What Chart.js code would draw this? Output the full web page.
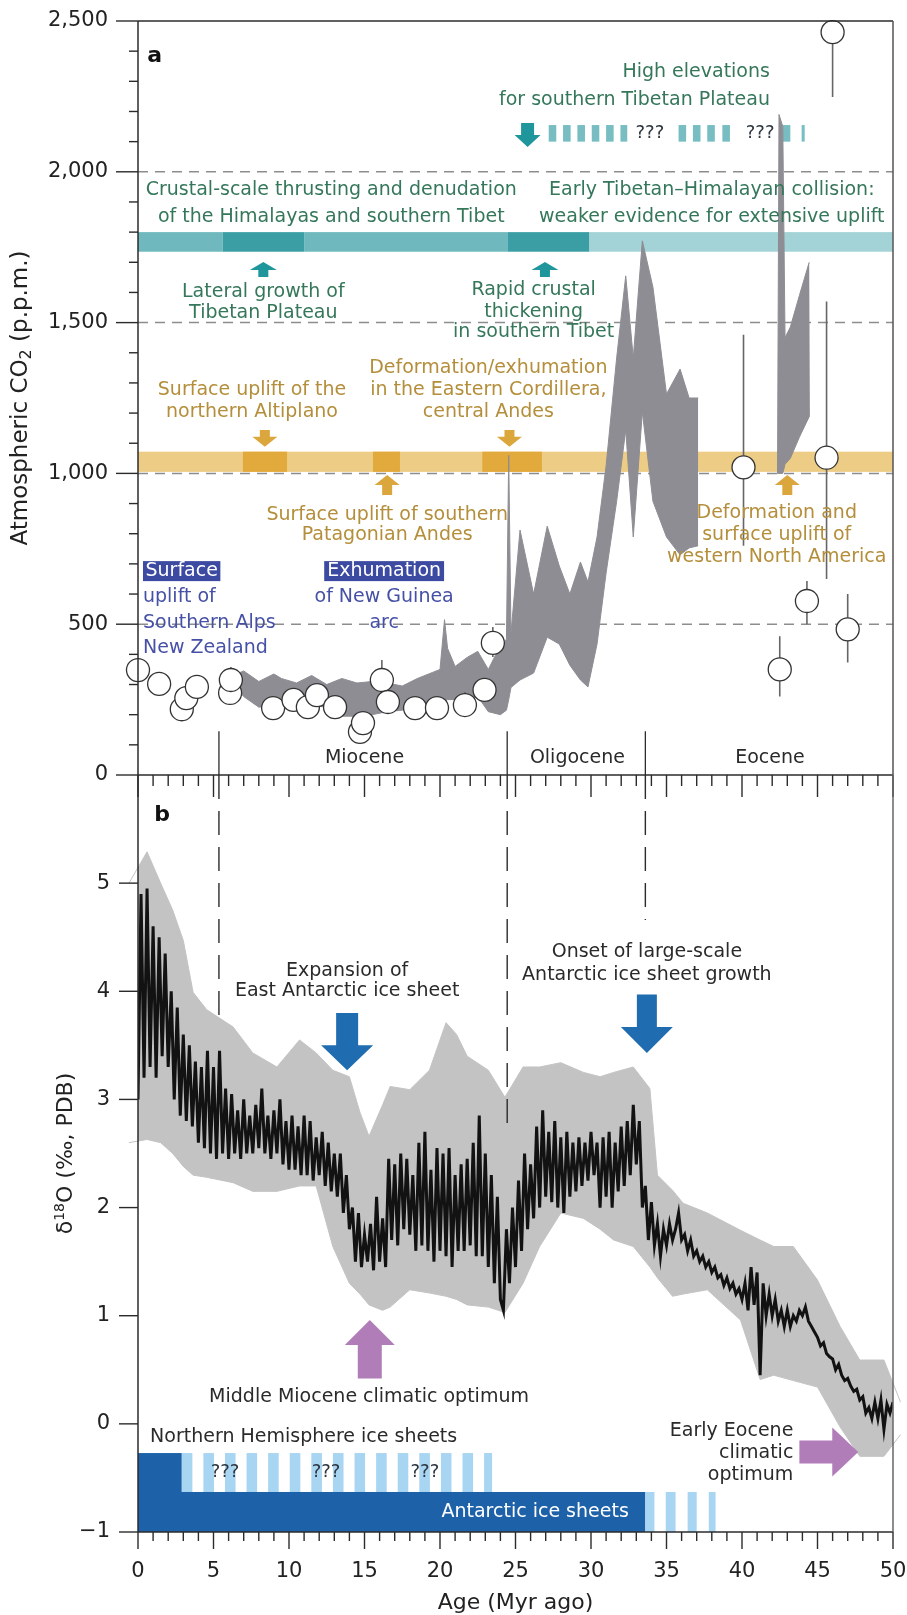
<!DOCTYPE html>
<html lang="en">
<head>
<meta charset="UTF-8">
<title>Atmospheric CO2 and benthic oxygen isotopes, 0-50 Myr</title>
<style>
  body { margin: 0; background: #fff; }
  #wrap { position: relative; width: 907px; height: 1615px; }
  #wrap canvas { position: absolute; left: 0; }
  #chartA { top: 0; }
  #chartB { top: 760px; }
</style>
</head>
<body>
<div id="wrap">
  <canvas id="chartA" width="907" height="800"></canvas>
  <canvas id="chartB" width="907" height="855"></canvas>
</div>
<script src="https://cdn.jsdelivr.net/npm/chart.js"></script>
<script>
// ---------- panel a : atmospheric CO2 ----------
const co2Age     = [0.0, 1.4, 2.9, 3.2, 3.9, 6.1, 6.15, 8.95, 10.3, 11.25, 11.85, 13.05, 14.7, 14.9, 16.15, 16.55, 18.35, 19.8, 21.65, 22.95, 23.5, 40.1, 42.5, 44.3, 45.6, 46.0, 47.0];
const co2Value   = [348, 302, 218, 255, 292, 272, 315, 222, 249, 225, 265, 225, 143, 172, 315, 242, 222, 222, 232, 282, 438, 1020, 350, 577, 1052, 2463, 483];
const co2ErrLow  = [null, null, null, null, null, null, 315, null, null, null, null, null, null, null, 315, null, null, null, 232, null, 391, 760, 260, 500, 650, 2248, 373];
const co2ErrHigh = [null, null, null, null, null, null, 358, null, null, null, null, null, null, null, 381, null, null, null, 275, null, 491, 1460, 460, 643, 1570, 2500, 600];

// alkenone band (Miocene-Oligocene) and Eocene band
const bandAge  = [6.3, 7.0, 8.0, 9.0, 9.5, 10.5, 11.5, 12.5, 13.5, 14.5, 15.5, 16.5, 17.5, 18.5, 19.5, 20.0, 20.3, 20.5, 21.0, 21.8, 22.5, 23.2, 24.0, 24.4, 24.55, 24.7, 25.3, 26.2, 27.1, 27.9, 28.6, 29.3, 29.8, 30.4, 31.0, 31.7, 32.3, 32.8, 33.4, 34.1, 35.0, 35.9, 36.5, 37.1];
const bandHigh = [330, 345, 310, 335, 320, 305, 330, 300, 320, 305, 310, 305, 295, 320, 340, 350, 515, 420, 360, 390, 410, 350, 430, 450, 1060, 470, 812, 600, 825, 693, 600, 706, 640, 789, 1025, 1383, 1655, 1383, 1771, 1618, 1263, 1346, 1250, 1250];
const bandLow  = [300, 260, 225, 230, 235, 235, 230, 225, 195, 195, 200, 210, 215, 220, 230, 240, 240, 250, 250, 250, 260, 210, 200, 215, 250, 290, 315, 338, 457, 434, 364, 315, 292, 434, 670, 908, 1144, 789, 1204, 908, 789, 730, 753, 760];
const eoBandAge  = [42.35, 42.45, 42.7, 42.85, 43.2, 43.8, 44.45, 44.5];
const eoBandHigh = [1000, 2190, 2150, 1450, 1485, 1590, 1700, 1700];
const eoBandLow  = [1000, 1000, 1000, 1030, 1050, 1120, 1190, 1190];

// uplift bars
const tibetStart    = [0, 5.6, 11.0, 24.5, 29.9];
const tibetEnd      = [5.6, 11.0, 24.5, 29.9, 50];
const tibetEvidence = ['moderate', 'strong', 'moderate', 'strong', 'weak'];
const hiElevStart   = [27.2, 28.15, 29.1, 30.05, 31.0, 31.95, 35.8, 36.75, 37.7, 38.7, 42.7, 43.95];
const hiElevEnd     = [27.7, 28.65, 29.6, 30.55, 31.5, 32.4, 36.3, 37.25, 38.2, 39.2, 43.2, 44.15];
const andesPulseStart = [6.95, 15.56, 22.8];
const andesPulseEnd   = [9.87, 17.35, 26.75];

const co2RefLines = [500, 1000, 1500, 2000];
const epochAge     = [5.36, 24.45, 33.6];
const epochDashEnd = [3.77, 2.7, 4.66];

// ---------- panel b : benthic d18O ----------
const d18oAge = [
  0, 0.2, 0.4, 0.6, 0.8, 1, 1.2, 1.4, 1.6, 1.8,
  2, 2.2, 2.4, 2.6, 2.8, 3, 3.2, 3.4, 3.6, 3.8,
  4, 4.2, 4.4, 4.6, 4.8, 5, 5.2, 5.4, 5.6, 5.8,
  6, 6.2, 6.4, 6.6, 6.8, 7, 7.2, 7.4, 7.6, 7.8,
  8, 8.2, 8.4, 8.6, 8.8, 9, 9.2, 9.4, 9.6, 9.8,
  10, 10.2, 10.4, 10.6, 10.8, 11, 11.2, 11.4, 11.6, 11.8,
  12, 12.2, 12.4, 12.6, 12.8, 13, 13.2, 13.4, 13.6, 13.8,
  14, 14.2, 14.4, 14.6, 14.8, 15, 15.2, 15.4, 15.6, 15.8,
  16, 16.2, 16.4, 16.6, 16.8, 17, 17.2, 17.4, 17.6, 17.8,
  18, 18.2, 18.4, 18.6, 18.8, 19, 19.2, 19.4, 19.6, 19.8,
  20, 20.2, 20.4, 20.6, 20.8, 21, 21.2, 21.4, 21.6, 21.8,
  22, 22.2, 22.4, 22.6, 22.8, 23, 23.2, 23.4, 23.6, 23.8,
  24, 24.2, 24.4, 24.6, 24.8, 25, 25.2, 25.4, 25.6, 25.8,
  26, 26.2, 26.4, 26.6, 26.8, 27, 27.2, 27.4, 27.6, 27.8,
  28, 28.2, 28.4, 28.6, 28.8, 29, 29.2, 29.4, 29.6, 29.8,
  30, 30.2, 30.4, 30.6, 30.8, 31, 31.2, 31.4, 31.6, 31.8,
  32, 32.2, 32.4, 32.6, 32.8, 33, 33.2, 33.4, 33.6, 33.8,
  34, 34.2, 34.4, 34.6, 34.8, 35, 35.2, 35.4, 35.6, 35.8,
  36, 36.2, 36.4, 36.6, 36.8, 37, 37.2, 37.4, 37.6, 37.8,
  38, 38.2, 38.4, 38.6, 38.8, 39, 39.2, 39.4, 39.6, 39.8,
  40, 40.2, 40.4, 40.6, 40.8, 41, 41.2, 41.4, 41.6, 41.8,
  42, 42.2, 42.4, 42.6, 42.8, 43, 43.2, 43.4, 43.6, 43.8,
  44, 44.2, 44.4, 44.6, 44.8, 45, 45.2, 45.4, 45.6, 45.8,
  46, 46.2, 46.4, 46.6, 46.8, 47, 47.2, 47.4, 47.6, 47.8,
  48, 48.2, 48.4, 48.6, 48.8, 49, 49.2, 49.4, 49.6, 49.8,
  50
];
const d18oValue = [
  3.0, 4.9, 3.2, 4.95, 3.3, 4.6, 3.2, 4.5, 3.4, 4.35,
  3.3, 4.0, 3.0, 3.85, 2.85, 3.6, 2.8, 3.5, 2.75, 3.35,
  2.6, 3.3, 2.55, 3.45, 2.5, 3.3, 2.45, 3.45, 2.5, 3.1,
  2.45, 3.05, 2.5, 2.9, 2.45, 3.0, 2.5, 2.85, 2.5, 2.95,
  2.55, 3.1, 2.5, 2.85, 2.45, 2.9, 2.5, 3.0, 2.4, 2.8,
  2.35, 2.85, 2.35, 2.75, 2.3, 2.85, 2.3, 2.8, 2.25, 2.65,
  2.3, 2.7, 2.2, 2.6, 2.15, 2.5, 2.1, 2.5, 1.95, 2.3,
  1.8, 2.0, 1.5, 1.95, 1.45, 1.75, 1.5, 1.85, 1.42, 2.1,
  1.5, 1.9, 1.45, 2.45, 1.7, 2.4, 1.65, 2.5, 1.8, 2.45,
  1.75, 2.3, 1.6, 2.6, 1.65, 2.7, 1.6, 2.35, 1.5, 2.55,
  1.6, 2.5, 1.55, 2.55, 1.45, 2.3, 1.6, 2.4, 1.6, 2.45,
  1.65, 2.6, 1.55, 2.85, 1.55, 2.5, 1.45, 2.3, 1.3, 2.1,
  1.15, 1.05, 1.8, 1.3, 2.0, 1.45, 2.25, 1.6, 2.5, 1.8,
  2.4, 1.9, 2.75, 2.0, 2.9, 2.1, 2.7, 2.05, 2.8, 2.0,
  2.65, 1.95, 2.7, 2.1, 2.6, 2.15, 2.65, 2.2, 2.6, 2.25,
  2.7, 2.3, 2.6, 2.0, 2.65, 2.1, 2.7, 2.0, 2.6, 2.15,
  2.75, 2.2, 2.8, 2.3, 2.95, 2.4, 2.8, 2.0, 2.2, 1.7,
  2.05, 1.65, 1.85, 1.55, 1.8, 1.65, 1.85, 1.7, 1.8, 1.95,
  1.7, 1.75, 1.6, 1.7, 1.55, 1.6, 1.5, 1.55, 1.45, 1.5,
  1.4, 1.45, 1.35, 1.38, 1.28, 1.35, 1.25, 1.3, 1.2, 1.25,
  1.15, 1.3, 1.05, 1.45, 1.1, 1.4, 0.45, 1.3, 1.0, 1.2,
  1.0, 1.15, 0.95, 1.05, 0.9, 1.05, 0.9, 1.0, 0.95, 1.05,
  1.0, 1.08, 0.95, 0.9, 0.85, 0.8, 0.72, 0.75, 0.65, 0.62,
  0.6, 0.5, 0.55, 0.45, 0.4, 0.42, 0.35, 0.3, 0.32, 0.22,
  0.25, 0.1, 0.15, 0.05, 0.2, 0.05, 0.22, -0.05, 0.18, 0.1,
  0.2
];
const envAge  = [-0.6, 0.6, 1.5, 2.3, 3.0, 3.65, 4.55, 6.3, 7.6, 9.2, 10.7, 11.8, 12.9, 14.0, 14.7, 15.3, 16.2, 16.7, 18.0, 19.3, 20.4, 21.1, 21.8, 23.2, 24.3, 25.5, 26.6, 28.0, 29.5, 30.6, 31.5, 32.8, 33.9, 34.4, 35.4, 36.1, 37.7, 39.9, 41.2, 42.1, 43.4, 45.0, 46.5, 47.8, 49.4, 50.5];
const envHigh = [5.0, 5.29, 5.0, 4.75, 4.47, 3.99, 3.83, 3.67, 3.43, 3.3, 3.55, 3.43, 3.27, 3.21, 2.88, 2.66, 2.95, 3.12, 3.09, 3.27, 3.71, 3.6, 3.4, 3.27, 3.02, 3.3, 3.3, 3.34, 3.25, 3.21, 3.25, 3.3, 3.1, 2.3, 2.16, 2.04, 1.95, 1.79, 1.7, 1.64, 1.64, 1.33, 0.9, 0.59, 0.59, 0.2];
const envLow  = [2.6, 2.63, 2.6, 2.5, 2.38, 2.3, 2.28, 2.23, 2.15, 2.15, 2.2, 2.2, 1.64, 1.3, 1.2, 1.1, 1.05, 1.08, 1.24, 1.21, 1.18, 1.15, 1.1, 1.08, 1.03, 1.3, 1.64, 1.95, 1.9, 1.8, 1.7, 1.64, 1.45, 1.35, 1.18, 1.2, 1.24, 0.96, 0.41, 0.45, 0.4, 0.34, -0.03, -0.3, -0.3, -0.1];

// ice sheet bars
const nhStripeStart = [2.9, 4.33, 5.76, 7.19, 8.62, 10.05, 11.48, 12.91, 14.34, 15.77, 17.2, 18.63, 20.06, 21.49, 22.92];
const nhStripeEnd   = [3.6, 5.03, 6.46, 7.89, 9.32, 10.75, 12.18, 13.61, 15.04, 16.47, 17.9, 19.33, 20.76, 22.19, 23.45];
const antStripeStart = [33.6, 34.95, 36.4, 37.8];
const antStripeEnd   = [34.2, 35.6, 37.0, 38.25];

// ---------- styles ----------
const FAM = '"DejaVu Sans", Verdana, sans-serif';
const ANNO = '19px ' + FAM;
const AXIS = '#2b2b2b';
const GREEN = '#35775a';
const GOLD = '#b48e3a';
const BLUE_TXT = '#4550a6';
const DARK_TXT = '#2a2a2a';
const TIBET_SHADE = { weak: '#a3d3d6', moderate: '#6fb8bd', strong: '#3b9ea4' };

Chart.defaults.font.family = FAM;
Chart.defaults.color = '#222';

function seg(ctx, x0, y0, x1, y1) { ctx.beginPath(); ctx.moveTo(x0, y0); ctx.lineTo(x1, y1); ctx.stroke(); }
function box(ctx, x0, x1, y0, y1, color) { ctx.fillStyle = color; ctx.fillRect(x0, Math.min(y0, y1), x1 - x0, Math.abs(y1 - y0)); }
function write(ctx, s, x, y, color, align, font) {
  ctx.font = font || ANNO; ctx.fillStyle = color; ctx.textAlign = align || 'center'; ctx.textBaseline = 'middle';
  ctx.fillText(s, x, y);
}
// vertical arrow, tip at yTip
function vArrow(ctx, x, yTail, yTip, shaftW, headW, headLen, color) {
  const dir = yTip > yTail ? 1 : -1, base = yTip - dir * headLen;
  ctx.fillStyle = color; ctx.beginPath();
  ctx.moveTo(x - shaftW / 2, yTail); ctx.lineTo(x + shaftW / 2, yTail); ctx.lineTo(x + shaftW / 2, base);
  ctx.lineTo(x + headW / 2, base); ctx.lineTo(x, yTip); ctx.lineTo(x - headW / 2, base);
  ctx.lineTo(x - shaftW / 2, base); ctx.closePath(); ctx.fill();
}
function hArrow(ctx, xTail, xTip, y, shaftH, headH, headLen, color) {
  const base = xTip - headLen;
  ctx.fillStyle = color; ctx.beginPath();
  ctx.moveTo(xTail, y - shaftH / 2); ctx.lineTo(base, y - shaftH / 2); ctx.lineTo(base, y - headH / 2);
  ctx.lineTo(xTip, y); ctx.lineTo(base, y + headH / 2); ctx.lineTo(base, y + shaftH / 2);
  ctx.lineTo(xTail, y + shaftH / 2); ctx.closePath(); ctx.fill();
}
function pts(xs, ys) { return xs.map((x, i) => ({ x: x, y: ys[i] })); }

const panelAPlugin = {
  id: 'panelA',
  beforeDatasetsDraw(chart) {
    const ctx = chart.ctx, ca = chart.chartArea;
    const X = v => chart.scales.x.getPixelForValue(v), Y = v => chart.scales.y.getPixelForValue(v);
    ctx.save();
    ctx.setLineDash([10, 7]); ctx.strokeStyle = '#8d8d8d'; ctx.lineWidth = 1.5;
    co2RefLines.forEach(v => seg(ctx, ca.left, Y(v), ca.right, Y(v)));
    ctx.setLineDash([]);
    tibetStart.forEach((s, i) => box(ctx, X(s), X(tibetEnd[i]), Y(1800), Y(1735), TIBET_SHADE[tibetEvidence[i]]));
    hiElevStart.forEach((s, i) => box(ctx, X(s), X(hiElevEnd[i]), Y(2155), Y(2100), '#77bdc2'));
    box(ctx, X(0), X(50), Y(1072), Y(1005), '#edcc85');
    andesPulseStart.forEach((s, i) => box(ctx, X(s), X(andesPulseEnd[i]), Y(1072), Y(1005), '#e2aa3d'));
    ctx.restore();
  },
  afterDatasetsDraw(chart) {
    const ctx = chart.ctx, ca = chart.chartArea;
    const X = v => chart.scales.x.getPixelForValue(v), Y = v => chart.scales.y.getPixelForValue(v);
    ctx.save();
    // epoch boundaries
    ctx.strokeStyle = AXIS; ctx.lineWidth = 1.3;
    epochAge.forEach(a => seg(ctx, X(a), Y(145), X(a), ca.bottom));
    // arrows
    vArrow(ctx, X(25.8), Y(2162), Y(2082), 13, 26, 12, '#1f969c');
    [8.3, 26.95].forEach(a => vArrow(ctx, X(a), Y(1651), Y(1701), 10, 27, 8, '#1f969c'));
    [8.4, 24.6].forEach(a => vArrow(ctx, X(a), Y(1144), Y(1088), 10, 25, 10, '#dba73c'));
    [16.5, 43.0].forEach(a => vArrow(ctx, X(a), Y(928), Y(995), 10, 25, 10, '#dba73c'));
    // text
    const green = [
      ['High elevations', 41.85, 2331, 'right'], ['for southern Tibetan Plateau', 41.85, 2238, 'right'],
      ['Crustal-scale thrusting and denudation', 12.8, 1940], ['of the Himalayas and southern Tibet', 12.8, 1850],
      ['Early Tibetan\u2013Himalayan collision:', 38.0, 1940], ['weaker evidence for extensive uplift', 38.0, 1850],
      ['Lateral growth of', 8.3, 1601], ['Tibetan Plateau', 8.3, 1532],
      ['Rapid crustal', 26.2, 1608], ['thickening', 26.2, 1535], ['in southern Tibet', 26.2, 1469]
    ];
    green.forEach(n => write(ctx, n[0], X(n[1]), Y(n[2]), GREEN, n[3]));
    const gold = [
      ['Surface uplift of the', 7.55, 1277], ['northern Altiplano', 7.55, 1204],
      ['Deformation/exhumation', 23.2, 1349], ['in the Eastern Cordillera,', 23.2, 1277], ['central Andes', 23.2, 1204],
      ['Surface uplift of southern', 16.5, 862], ['Patagonian Andes', 16.5, 796],
      ['Deformation and', 42.3, 869], ['surface uplift of', 42.3, 796], ['western North America', 42.3, 723]
    ];
    gold.forEach(n => write(ctx, n[0], X(n[1]), Y(n[2]), GOLD, n[3]));
    ['???', '???'].forEach((s, i) => write(ctx, s, X([33.9, 41.2][i]), Y(2128), '#2d3640', 'center', '18px ' + FAM));
    // blue boxed labels
    ctx.font = ANNO;
    const w1 = ctx.measureText('Surface').width, w2 = ctx.measureText('Exhumation').width;
    box(ctx, X(0.33), X(0.33) + w1 + 5, Y(676) - 10, Y(676) + 10, '#3d4aa1');
    write(ctx, 'Surface', X(0.33) + 2.5, Y(676), '#fff', 'left');
    box(ctx, X(16.3) - w2 / 2 - 3, X(16.3) + w2 / 2 + 3, Y(676) - 10, Y(676) + 10, '#3d4aa1');
    write(ctx, 'Exhumation', X(16.3), Y(676), '#fff');
    [['uplift of', 590], ['Southern Alps', 504], ['New Zealand', 421]].forEach(n => write(ctx, n[0], X(0.33), Y(n[1]), BLUE_TXT, 'left'));
    [['of New Guinea', 590], ['arc', 504]].forEach(n => write(ctx, n[0], X(16.3), Y(n[1]), BLUE_TXT));
    [['Miocene', 15.0], ['Oligocene', 29.1], ['Eocene', 41.85]].forEach(n => write(ctx, n[0], X(n[1]), Y(56), DARK_TXT));
    write(ctx, 'a', X(1.1), Y(2384), '#111', 'center', 'bold 22px ' + FAM);
    // frame
    ctx.strokeStyle = AXIS; ctx.lineWidth = 1.5;
    seg(ctx, ca.left, ca.top, ca.right, ca.top);
    seg(ctx, ca.left, ca.top, ca.left, ca.bottom);
    seg(ctx, ca.left, ca.bottom, ca.right, ca.bottom);
    ctx.strokeStyle = '#555';
    seg(ctx, ca.right, ca.top, ca.right, ca.bottom);
    // ticks
    ctx.strokeStyle = AXIS; ctx.lineWidth = 1.4;
    chart.scales.y.ticks.forEach(t => {
      const y = Y(t.value), len = t.value % 500 === 0 ? 22 : 9;
      seg(ctx, ca.left - len, y, ca.left, y);
    });
    for (let a = 0; a <= 50; a++) {
      const len = a % 5 === 0 ? 22 : 11;
      seg(ctx, X(a), ca.bottom, X(a), ca.bottom + len);
    }
    // y title with subscript
    ctx.translate(21, (ca.top + ca.bottom) / 2);
    ctx.rotate(-Math.PI / 2);
    const big = '23px ' + FAM, small = '16px ' + FAM;
    ctx.font = big; const p1 = ctx.measureText('Atmospheric CO').width, p3 = ctx.measureText(' (p.p.m.)').width;
    ctx.font = small; const p2 = ctx.measureText('2').width;
    let x0 = -(p1 + p2 + p3) / 2;
    write(ctx, 'Atmospheric CO', x0, 0, '#222', 'left', big);
    write(ctx, '2', x0 + p1, 6, '#222', 'left', small);
    write(ctx, ' (p.p.m.)', x0 + p1 + p2, 0, '#222', 'left', big);
    ctx.restore();
  }
};

const panelBPlugin = {
  id: 'panelB',
  beforeDatasetsDraw(chart) {
    const ctx = chart.ctx;
    const X = v => chart.scales.x.getPixelForValue(v), Y = v => chart.scales.y.getPixelForValue(v);
    ctx.save();
    const darkBlue = '#1d61a9', lightBlue = '#a8d5f2';
    box(ctx, X(0), X(2.9), Y(-0.27), Y(-0.63), darkBlue);
    nhStripeStart.forEach((s, i) => box(ctx, X(s), X(nhStripeEnd[i]), Y(-0.27), Y(-0.63), lightBlue));
    box(ctx, X(0), X(33.6), Y(-0.63), Y(-1.0), darkBlue);
    antStripeStart.forEach((s, i) => box(ctx, X(s), X(antStripeEnd[i]), Y(-0.63), Y(-1.0), lightBlue));
    ctx.restore();
  },
  afterDatasetsDraw(chart) {
    const ctx = chart.ctx, ca = chart.chartArea;
    const X = v => chart.scales.x.getPixelForValue(v), Y = v => chart.scales.y.getPixelForValue(v);
    ctx.save();
    // epoch boundaries (dashed)
    ctx.strokeStyle = AXIS; ctx.lineWidth = 1.4; ctx.setLineDash([24, 12]);
    epochAge.forEach((a, i) => seg(ctx, X(a), ca.top, X(a), Y(epochDashEnd[i])));
    ctx.setLineDash([]);
    // arrows
    vArrow(ctx, X(13.85), Y(3.8), Y(3.27), 22, 52, 25, '#1f6db0');
    vArrow(ctx, X(33.7), Y(3.97), Y(3.43), 20, 52, 26, '#1f6db0');
    vArrow(ctx, X(15.35), Y(0.42), Y(0.96), 24, 50, 25, '#b07db8');
    hArrow(ctx, X(43.8), X(47.7), Y(-0.26), 23, 49, 26, '#b07db8');
    // text
    const notes = [
      ['Expansion of', 13.85, 4.19], ['East Antarctic ice sheet', 13.85, 4.0],
      ['Onset of large-scale', 33.7, 4.36], ['Antarctic ice sheet growth', 33.7, 4.15],
      ['Middle Miocene climatic optimum', 15.3, 0.25],
      ['Northern Hemisphere ice sheets', 0.8, -0.12, 'left'],
      ['Early Eocene', 43.4, -0.07, 'right'], ['climatic', 43.4, -0.27, 'right'], ['optimum', 43.4, -0.47, 'right']
    ];
    notes.forEach(n => write(ctx, n[0], X(n[1]), Y(n[2]), DARK_TXT, n[3]));
    [5.76, 12.45, 19.0].forEach(a => write(ctx, '???', X(a), Y(-0.45), '#2d3640', 'center', '18px ' + FAM));
    write(ctx, 'Antarctic ice sheets', X(26.3), Y(-0.82), '#fff');
    write(ctx, 'b', X(1.6), Y(5.63), '#111', 'center', 'bold 22px ' + FAM);
    // frame
    ctx.strokeStyle = AXIS; ctx.lineWidth = 1.5;
    seg(ctx, ca.left, ca.top, ca.left, ca.bottom);
    seg(ctx, ca.left, ca.bottom, ca.right, ca.bottom);
    ctx.strokeStyle = '#666';
    seg(ctx, ca.right, ca.top, ca.right, ca.bottom);
    // ticks
    ctx.strokeStyle = AXIS; ctx.lineWidth = 1.4;
    chart.scales.y.ticks.forEach(t => { if (t.value <= 5) seg(ctx, ca.left - 19, Y(t.value), ca.left, Y(t.value)); });
    chart.scales.x.ticks.forEach(t => {
      const len = t.value % 5 === 0 ? 17 : 9;
      seg(ctx, X(t.value), ca.bottom, X(t.value), ca.bottom + len);
    });
    // axis titles
    write(ctx, 'Age (Myr ago)', X(25.0), ca.bottom + 71, '#222', 'center', '22px ' + FAM);
    ctx.translate(66, Y(2.5));
    ctx.rotate(-Math.PI / 2);
    const big = '22px ' + FAM, small = '14px ' + FAM;
    ctx.font = big; const q1 = ctx.measureText('\u03b4').width, q3 = ctx.measureText('O (\u2030, PDB)').width;
    ctx.font = small; const q2 = ctx.measureText('18').width;
    const x0 = -(q1 + q2 + q3) / 2;
    write(ctx, '\u03b4', x0, 0, '#222', 'left', big);
    write(ctx, '18', x0 + q1, -6, '#222', 'left', small);
    write(ctx, 'O (\u2030, PDB)', x0 + q1 + q2, 0, '#222', 'left', big);
    ctx.restore();
  }
};

// ---------- chart a ----------
const errData = [];
co2Age.forEach((a, i) => {
  if (co2ErrLow[i] !== null) errData.push({ x: a, y: co2ErrLow[i] }, { x: a, y: co2ErrHigh[i] }, { x: a, y: null });
});
const BAND_A = '#8d8d93';

new Chart(document.getElementById('chartA'), {
  type: 'line',
  data: {
    datasets: [
      { label: 'CO2 proxies', data: pts(co2Age, co2Value), showLine: false, pointRadius: 11.5,
        pointBackgroundColor: '#fff', pointBorderColor: '#333', pointBorderWidth: 1.3, order: 0, clip: false },
      { label: 'uncertainty', data: errData, spanGaps: false, borderColor: '#666', borderWidth: 1.6,
        pointRadius: 0, order: 1 },
      { label: 'alkenone low', data: pts(bandAge, bandLow), borderColor: BAND_A, borderWidth: 1,
        pointRadius: 0, fill: false, order: 2 },
      { label: 'alkenone high', data: pts(bandAge, bandHigh), borderColor: BAND_A, borderWidth: 1,
        backgroundColor: BAND_A, pointRadius: 0, fill: '-1', order: 2 },
      { label: 'eocene low', data: pts(eoBandAge, eoBandLow), borderColor: BAND_A, borderWidth: 1,
        pointRadius: 0, fill: false, order: 2 },
      { label: 'eocene high', data: pts(eoBandAge, eoBandHigh), borderColor: BAND_A, borderWidth: 1,
        backgroundColor: BAND_A, pointRadius: 0, fill: '-1', order: 2 }
    ]
  },
  options: {
    responsive: false, animation: false, events: [],
    layout: { padding: { top: 21, right: 14, bottom: 25, left: 0 } },
    plugins: { legend: { display: false }, tooltip: { enabled: false } },
    elements: { line: { tension: 0 } },
    scales: {
      x: { type: 'linear', min: 0, max: 50, display: false },
      y: {
        type: 'linear', min: 0, max: 2500,
        afterFit(s) { s.width = 138; },
        grid: { display: false, drawTicks: true, tickLength: 30 }, border: { display: false },
        ticks: {
          stepSize: 100, autoSkip: false, padding: 0, color: '#222', font: { size: 21 },
          callback: v => v % 500 === 0 ? v.toLocaleString('en-US') : ''
        }
      }
    }
  },
  plugins: [panelAPlugin]
});

// ---------- chart b ----------
const BAND_B = '#c3c3c3';
new Chart(document.getElementById('chartB'), {
  type: 'line',
  data: {
    datasets: [
      { label: 'benthic d18O', data: pts(d18oAge, d18oValue), borderColor: '#121212', borderWidth: 3,
        pointRadius: 0, order: 0 },
      { label: 'envelope low', data: pts(envAge, envLow), borderColor: BAND_B, borderWidth: 1,
        pointRadius: 0, fill: false, order: 1, clip: 20 },
      { label: 'envelope high', data: pts(envAge, envHigh), borderColor: BAND_B, borderWidth: 1,
        backgroundColor: BAND_B, pointRadius: 0, fill: '-1', order: 1, clip: 20 }
    ]
  },
  options: {
    responsive: false, animation: false, events: [],
    layout: { padding: { top: 15, right: 14, bottom: 0, left: 0 } },
    plugins: { legend: { display: false }, tooltip: { enabled: false } },
    elements: { line: { tension: 0 } },
    scales: {
      x: {
        type: 'linear', min: 0, max: 50,
        afterFit(s) { s.height = 83; },
        grid: { display: false, drawTicks: true, tickLength: 27 }, border: { display: false },
        ticks: {
          stepSize: 1, autoSkip: false, maxRotation: 0, minRotation: 0, padding: 0,
          color: '#222', font: { size: 21 },
          callback: v => v % 5 === 0 ? String(v) : ''
        }
      },
      y: {
        type: 'linear', min: -1, max: 6,
        afterFit(s) { s.width = 138; },
        grid: { display: false, drawTicks: true, tickLength: 28 }, border: { display: false },
        ticks: {
          stepSize: 1, autoSkip: false, padding: 0, color: '#222', font: { size: 21 },
          callback: v => v > 5 ? '' : (v < 0 ? '\u22121' : String(v))
        }
      }
    }
  },
  plugins: [panelBPlugin]
});
</script>
</body>
</html>
